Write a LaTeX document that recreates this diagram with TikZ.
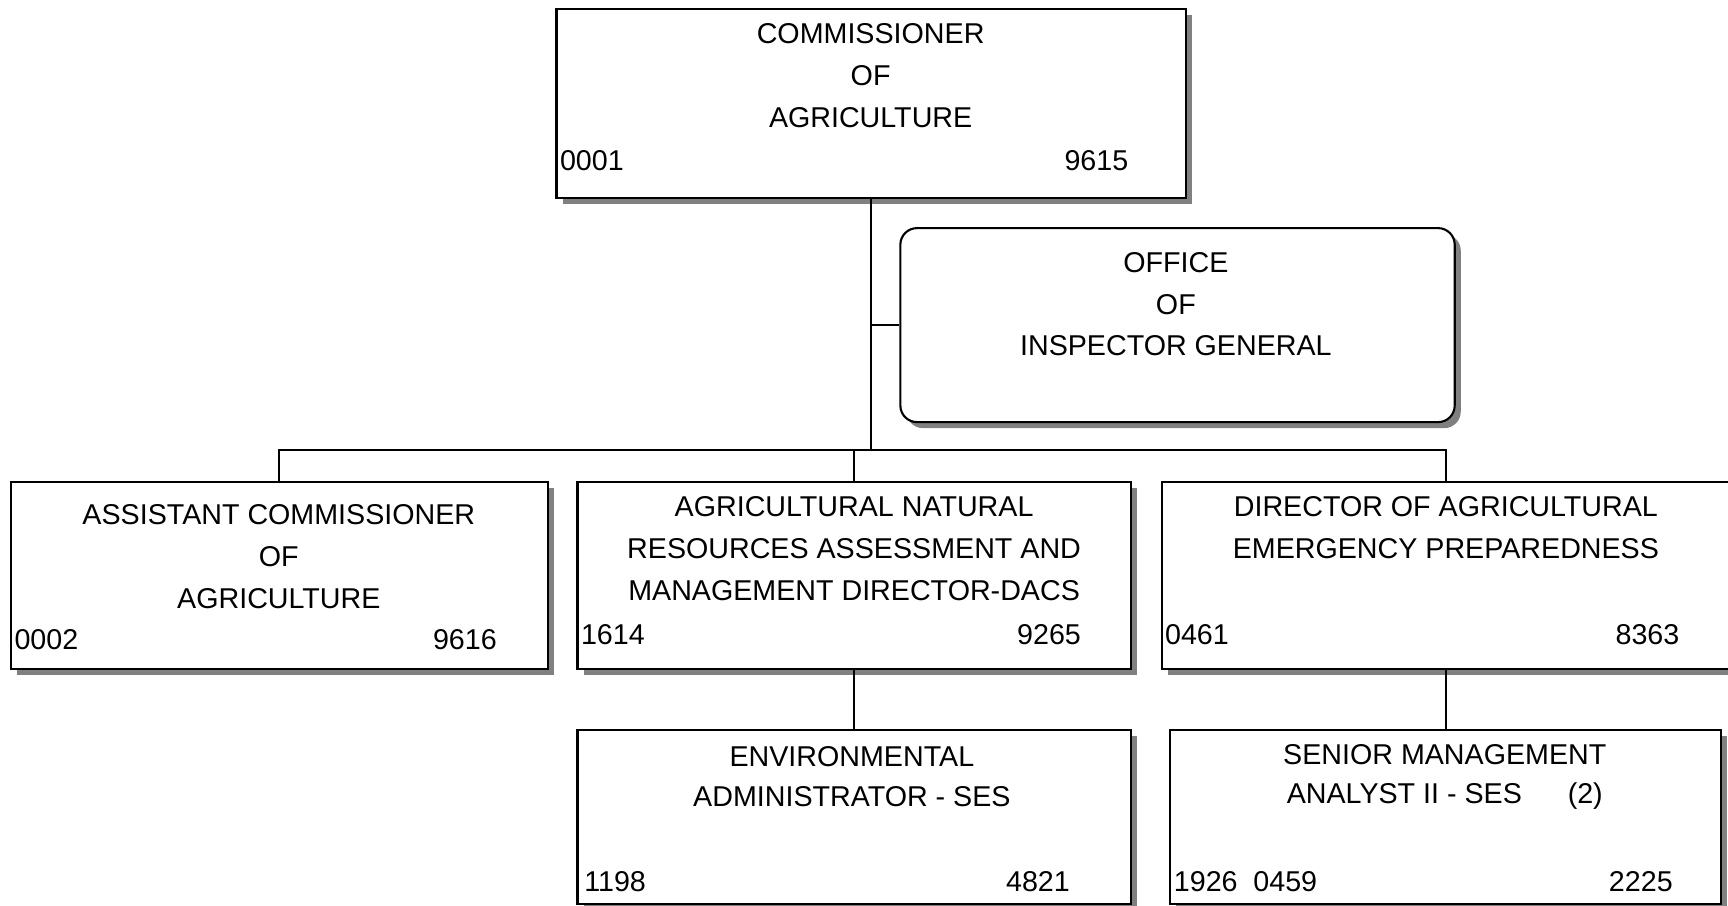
\documentclass[tikz,border=0pt]{standalone}
\usepackage{fontspec}
\setmainfont{Liberation Sans}
\usetikzlibrary{shadows}
\definecolor{shadowgray}{RGB}{128,128,128}
\tikzset{
  orgbox/.style={draw, line width=1.9pt, fill=white, rectangle, inner sep=0pt,
    drop shadow={shadow xshift=5.5pt, shadow yshift=-5.5pt, fill=shadowgray, opacity=1}},
  title/.style={font=\fontsize{26}{38}\selectfont, align=center, inner sep=0pt},
  title2/.style={font=\fontsize{26}{36}\selectfont, align=center, inner sep=0pt},
  numl/.style={font=\fontsize{26}{30}\selectfont, inner sep=0pt, anchor=west},
  numr/.style={font=\fontsize{26}{30}\selectfont, inner sep=0pt, anchor=east},
  conn/.style={line width=1.8pt}
}
\begin{document}
\begin{tikzpicture}[x=1pt, y=-1pt]
\useasboundingbox (0,0) rectangle (1568,822);

% boxes
\node[orgbox, minimum width=571pt, minimum height=172pt] (comm) at (790.5,94) {};
\node[orgbox, rounded corners=15pt, minimum width=503pt, minimum height=176pt] (oig) at (1068.5,295) {};
\node[orgbox, minimum width=487pt, minimum height=170pt] (asst) at (253.5,522) {};
\node[orgbox, minimum width=502pt, minimum height=170pt] (anr) at (775,522) {};
\node[orgbox, minimum width=516pt, minimum height=170pt] (emer) at (1312,522) {};
\node[orgbox, minimum width=502pt, minimum height=158pt] (env) at (775,741) {};
\node[orgbox, minimum width=500pt, minimum height=158pt] (sma) at (1312,741) {};

% connectors
\coordinate (bus) at (790.5,408);
\draw[conn] (comm.south) -- (bus);
\draw[conn] (oig.west) -- (oig.west -| comm.south);
\draw[conn] (asst.north) -- (asst.north |- bus) -- (emer.north |- bus) -- (emer.north);
\draw[conn] (anr.north) -- (anr.north |- bus);
\draw[conn] (anr.south) -- (env.north);
\draw[conn] (sma.north |- emer.south) -- (sma.north);

% titles
\node[title] (comm-t) at (790,68.5) {COMMISSIONER\\OF\\AGRICULTURE};
\node[title] (oig-t) at (1067,276) {OFFICE\\OF\\INSPECTOR GENERAL};
\node[title] (asst-t) at (253,505) {ASSISTANT COMMISSIONER\\OF\\AGRICULTURE};
\node[title] (anr-t) at (775,498) {AGRICULTURAL NATURAL\\RESOURCES ASSESSMENT AND\\MANAGEMENT DIRECTOR-DACS};
\node[title] (emer-t) at (1312,479) {DIRECTOR OF AGRICULTURAL\\EMERGENCY PREPAREDNESS};
\node[title2] (env-t) at (773,705) {ENVIRONMENTAL\\ADMINISTRATOR - SES};
\node[title2] (sma-t) at (1311,705) {SENIOR MANAGEMENT\\ANALYST II - SES\hspace{1.6em}(2)};

% position numbers
\node[numl] (comm-l) at (508,146) {0001};
\node[numr] (comm-r) at (1024,146) {9615};
\node[numl] (asst-l) at (13,580) {0002};
\node[numr] (asst-r) at (451,580) {9616};
\node[numl] (anr-l) at (527,576) {1614};
\node[numr] (anr-r) at (981,576) {9265};
\node[numl] (emer-l) at (1057,576) {0461};
\node[numr] (emer-r) at (1524,576) {8363};
\node[numl] (env-l) at (530,800) {1198};
\node[numr] (env-r) at (971,800) {4821};
\node[numl] (sma-l) at (1065,800) {1926\hspace{0.55em}0459};
\node[numr] (sma-r) at (1518,800) {2225};
\end{tikzpicture}
\end{document}
